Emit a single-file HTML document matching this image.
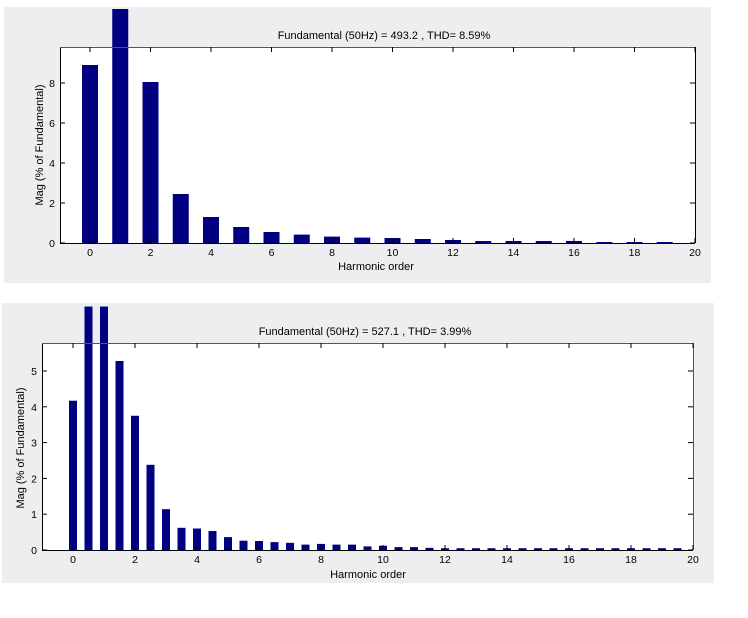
<!DOCTYPE html>
<html><head><meta charset="utf-8"><style>
html,body{margin:0;padding:0;background:#fff;}
svg{display:block;font-family:"Liberation Sans",sans-serif;}
</style></head><body>
<svg id="s" width="748" height="618" xmlns="http://www.w3.org/2000/svg">
<rect x="4" y="7" width="707" height="276" fill="#eeeef0"/>
<rect x="2" y="303" width="712" height="280" fill="#eeeef0"/>
<rect x="60" y="47" width="635" height="196" fill="#fff"/>
<rect x="42" y="343" width="651" height="207" fill="#fff"/>
<g id="g"></g>
<text x="384" y="39" font-size="11" text-anchor="middle">Fundamental (50Hz) = 493.2 , THD= 8.59%</text>
<text x="376" y="270" font-size="11" text-anchor="middle">Harmonic order</text>
<text transform="translate(43,145) rotate(-90)" font-size="11" text-anchor="middle">Mag (% of Fundamental)</text>
<text x="365" y="335" font-size="11" text-anchor="middle">Fundamental (50Hz) = 527.1 , THD= 3.99%</text>
<text x="368" y="578" font-size="11" text-anchor="middle">Harmonic order</text>
<text transform="translate(24,448) rotate(-90)" font-size="11" text-anchor="middle">Mag (% of Fundamental)</text>
</svg>
<script>
var g=document.getElementById('g'),h='';
function R(x,y,w,hh,f){h+='<rect x="'+x+'" y="'+y+'" width="'+w+'" height="'+hh+'" fill="'+f+'"/>';}
function L(a,b,c,d,col){h+='<line x1="'+a+'" y1="'+b+'" x2="'+c+'" y2="'+d+'" stroke="'+(col||'#000')+'" stroke-width="1"/>';}
function T(x,y,t,a){h+='<text x="'+x+'" y="'+y+'" font-size="10.5" text-anchor="'+(a||'middle')+'">'+t+'</text>';}
// top
var v1=[8.9,11.7,8.05,2.45,1.3,0.8,0.55,0.42,0.32,0.27,0.25,0.2,0.15,0.1,0.1,0.1,0.1,0.05,0.05,0.05];
for(var i=0;i<20;i++){var x=90+i*30.25,y=243-v1[i]*20;R(x-8,y,16,243-y,'#000080');}
L(60,243.5,695,243.5);L(60.5,47,60.5,243);L(60,47.5,695,47.5,'#555');L(695.5,47,695.5,243);
for(var i=0;i<=20;i+=2){var x=90+i*30.25;L(x,243,x,238);L(x,47,x,52);T(x,256,i);}
for(var j=0;j<=8;j+=2){var y=243-j*20;L(60,y,65,y);L(695,y,690,y);T(55,y+4,j,'end');}
// bottom
var v2=[4.17,6.8,6.8,5.28,3.75,2.38,1.14,0.62,0.6,0.53,0.36,0.26,0.25,0.22,0.2,0.15,0.17,0.15,0.15,0.1,0.12,0.08,0.08,0.06,0.05,0.05,0.05,0.05,0.05,0.05,0.05,0.05,0.05,0.05,0.05,0.05,0.05,0.05,0.05,0.05];
for(var i=0;i<40;i++){var x=73+i*15.5,y=550-v2[i]*35.8;if(y<303)y=303;R(x-4,y,8,550-y,'#000080');}
L(42,550.5,693,550.5);L(42.5,343,42.5,550);L(42,343.5,693,343.5,'#555');L(693.5,343,693.5,550,'#555');
for(var i=0;i<=20;i+=2){var x=73+i*31;L(x,550,x,545);L(x,343,x,348);T(x,563,i);}
for(var j=0;j<=5;j++){var y=550-j*35.8;L(42,y,47,y);L(693,y,688,y);T(37,y+4,j,'end');}
g.innerHTML=h;
</script>
</body></html>
